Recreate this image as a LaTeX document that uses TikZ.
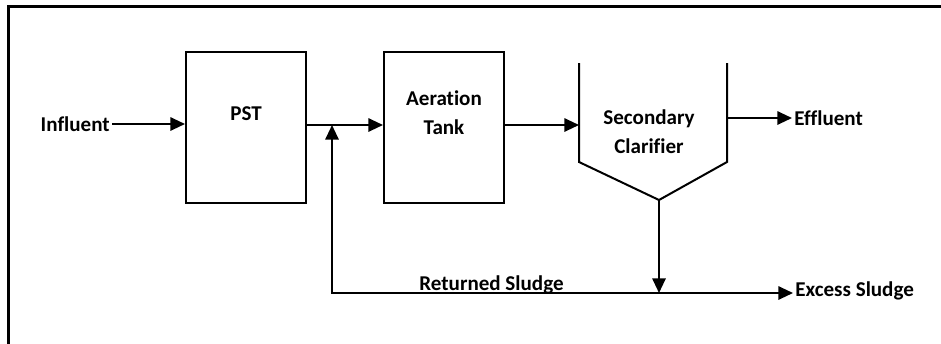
\documentclass[tikz,border=0pt]{standalone}
\usepackage{fontspec}
\setmainfont[Ligatures=NoCommon]{Carlito}
\usetikzlibrary{arrows.meta,positioning}

\begin{document}
\begin{tikzpicture}[x=0.75pt,y=-0.75pt,line width=1.5pt,
        >={Triangle[length=11pt,width=10pt]},
        font=\fontsize{15.8}{21.5}\selectfont\bfseries,
        tank/.style={draw,minimum width=90pt,minimum height=113.25pt,inner sep=0pt},
        lbl/.style={inner sep=1pt,align=center}]
    \useasboundingbox (0,0) rectangle (941,343);
    \draw[line width=2.25pt] (8,360) |- (960,6);
    % units
    \node[tank,label={[lbl,yshift=10.5pt]center:PST}] (pst) at (246,127.5) {};
    \node[tank,label={[lbl,yshift=11pt]center:Aeration\\Tank}] (aer) [right=57pt of pst] {};
    \node[lbl,anchor=east] (inf) at (112,124) {Influent};
    % clarifier
    \coordinate (cl_l) at (579,63);
    \coordinate (cl_r) at (727,63);
    \coordinate (apex) at (659,200);
    \draw (cl_l) -- (579,162) -- (apex) -- (727,162) -- (cl_r);
    \node[lbl] (sc) at (649,132) {Secondary\\Clarifier};
    \node[lbl,anchor=west] (eff) at (792,118) {Effluent};
    \node[lbl,anchor=west] (exs) at (793,291) {Excess Sludge};
    \node[lbl,anchor=base] (ret) at (491.5,290) {Returned Sludge};
    \coordinate (jn) at (332,125);
    \coordinate (mix) at (659,293);
    % flows
    \draw[->] (inf.east) -- (inf.east -| pst.west);
    \draw[->] (pst.east |- jn) -- (aer.west |- jn);
    \draw[->] (aer.east |- jn) -- (cl_l |- jn);
    \draw[->] (eff.west -| cl_r) -- (eff.west);
    \draw[->] (apex) -- (mix);
    \draw[->] (jn |- mix) -- (exs.west |- mix);
    \draw[->] (mix) -| (jn);
\end{tikzpicture}
\end{document}
